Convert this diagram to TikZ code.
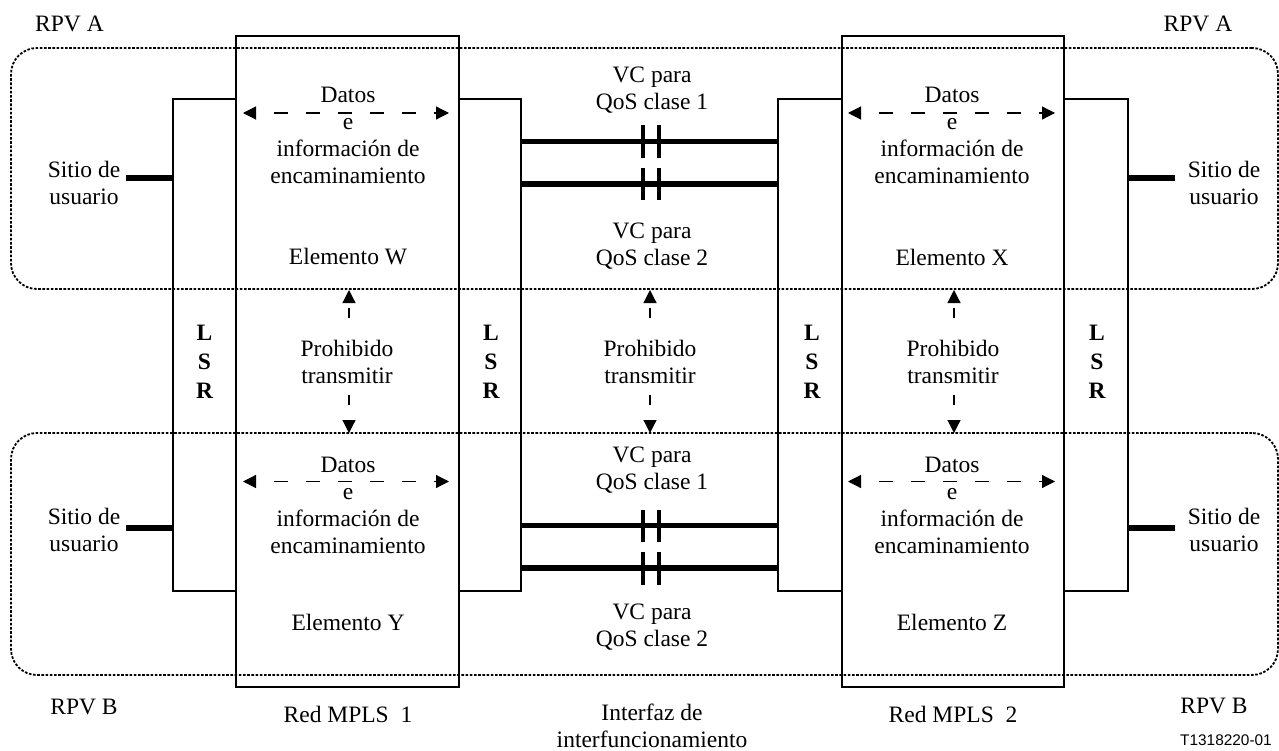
\documentclass[tikz,border=0pt]{standalone}
\usepackage{fontspec}
\setmainfont{Liberation Serif}
\newfontfamily\codefont{Liberation Sans}
\usetikzlibrary{arrows.meta}
\tikzset{
  txt/.style={inner sep=0pt, outer sep=0pt, align=center, font=\fontsize{23.5}{27}\selectfont},
  lsrtxt/.style={inner sep=0pt, outer sep=0pt, align=center, font=\fontsize{23.5}{29}\selectfont\bfseries},
  blk/.style={draw, line width=1.2pt, inner sep=0pt, outer sep=0pt},
  vpn/.style={draw, line width=1.8pt, dash pattern=on 2.6pt off 1.6pt, rounded corners=26pt, inner sep=0pt, outer sep=0pt},
  heavy/.style={line width=5.5pt},
  brk/.style={line width=4pt},
  tip/.tip={Triangle[length=13pt,width=13pt]},
  dataarrow/.style={line width=1.2pt, dash pattern=on 14pt off 18pt, dash phase=14pt, tip-tip},
  forbarrow/.style={line width=1.2pt, dash pattern=on 10pt off 40pt, -tip},
}
\begin{document}
\begin{tikzpicture}[x=1pt,y=-1pt]
\useasboundingbox (0,0) rectangle (1279,751);
% VPN groupings
\node[vpn, minimum width=1267pt, minimum height=241pt] (rpvA) at (644.5,168.5) {};
\node[vpn, minimum width=1267pt, minimum height=242pt] (rpvB) at (644.5,554) {};
% MPLS networks
\node[blk, minimum width=223pt, minimum height=651pt] (mpls1) at (347.5,361.5) {};
\node[blk, minimum width=222pt, minimum height=651pt] (mpls2) at (953,361.5) {};
% LSRs
\node[blk, minimum width=63pt, minimum height=492pt] (lsr1) at (204.5,345) {};
\node[blk, minimum width=62pt, minimum height=492pt] (lsr2) at (490,345) {};
\node[blk, minimum width=64pt, minimum height=492pt] (lsr3) at (810,345) {};
\node[blk, minimum width=64pt, minimum height=492pt] (lsr4) at (1096,345) {};
\node[lsrtxt] (l1) at (204.5,362) {L\\S\\R};
\node[lsrtxt] (l2) at (491,362) {L\\S\\R};
\node[lsrtxt] (l3) at (812,362) {L\\S\\R};
\node[lsrtxt] (l4) at (1097,362) {L\\S\\R};
% user sites
\node[txt] (s1) at (84,183) {Sitio de\\usuario};
\node[txt] (s2) at (1224,183) {Sitio de\\usuario};
\node[txt] (s3) at (84,530) {Sitio de\\usuario};
\node[txt] (s4) at (1224,530) {Sitio de\\usuario};
\coordinate (s1e) at (126,178);
\coordinate (s2e) at (1175,178);
\coordinate (s3e) at (126,528);
\coordinate (s4e) at (1175,528);
\draw[heavy] (s1e) -- (s1e -| lsr1.west);
\draw[heavy] (s2e -| lsr4.east) -- (s2e);
\draw[heavy] (s3e) -- (s3e -| lsr1.west);
\draw[heavy] (s4e -| lsr4.east) -- (s4e);
% interworking interface
\coordinate (i1) at (0,141.5);
\coordinate (i2) at (0,184);
\coordinate (i3) at (0,525.5);
\coordinate (i4) at (0,568);
\foreach \c in {i1,i2,i3,i4}{
  \draw[heavy] (\c -| lsr2.east) -- (\c -| lsr3.west);
  \draw[brk] ([yshift=16pt]\c -| 643,0) -- ([yshift=-16.5pt]\c -| 643,0);
  \draw[brk] ([yshift=16pt]\c -| 659,0) -- ([yshift=-16.5pt]\c -| 659,0);
}
\node[txt] (vc1) at (652,90) {VC para\\QoS clase 1};
\node[txt] (vc2) at (652,246) {VC para\\QoS clase 2};
\node[txt] (vc3) at (652,470) {VC para\\QoS clase 1};
\node[txt] (vc4) at (652,627) {VC para\\QoS clase 2};
% data and routing information
\node[txt] (d1) at (348,135) {Datos\\e\\información de\\encaminamiento};
\node[txt] (d2) at (952,135) {Datos\\e\\información de\\encaminamiento};
\node[txt] (d3) at (348,505) {Datos\\e\\información de\\encaminamiento};
\node[txt] (d4) at (952,505) {Datos\\e\\información de\\encaminamiento};
\coordinate (ya) at (0,113);
\coordinate (yb) at (0,481.5);
\draw[dataarrow] ([xshift=7pt]ya -| mpls1.west) -- ([xshift=-10pt]ya -| mpls1.east);
\draw[dataarrow] ([xshift=6pt]ya -| mpls2.west) -- ([xshift=-9pt]ya -| mpls2.east);
\draw[dataarrow] ([xshift=7pt]yb -| mpls1.west) -- ([xshift=-10pt]yb -| mpls1.east);
\draw[dataarrow] ([xshift=6pt]yb -| mpls2.west) -- ([xshift=-9pt]yb -| mpls2.east);
% elements
\node[txt] (ew) at (348,257) {Elemento W};
\node[txt] (ex) at (952,257) {Elemento X};
\node[txt] (ey) at (348,622) {Elemento Y};
\node[txt] (ez) at (952,622) {Elemento Z};
% forbidden transmission
\node[txt] (p1) at (347,361.5) {Prohibido\\transmitir};
\node[txt] (p2) at (650,361.5) {Prohibido\\transmitir};
\node[txt] (p3) at (953,361.5) {Prohibido\\transmitir};
\coordinate (p1t) at (349,290); \coordinate (p1b) at (349,433);
\coordinate (p2t) at (650,290); \coordinate (p2b) at (650,433);
\coordinate (p3t) at (954,290); \coordinate (p3b) at (954,433);
\draw[forbarrow] ([yshift=22pt]p1.north -| p1t) -- (p1t);
\draw[forbarrow] ([yshift=-12pt]p1.south -| p1b) -- (p1b);
\draw[forbarrow] ([yshift=22pt]p2.north -| p2t) -- (p2t);
\draw[forbarrow] ([yshift=-12pt]p2.south -| p2b) -- (p2b);
\draw[forbarrow] ([yshift=22pt]p3.north -| p3t) -- (p3t);
\draw[forbarrow] ([yshift=-12pt]p3.south -| p3b) -- (p3b);
% labels
\node[txt, anchor=base] (la1) at (69.5,31.5) {RPV A};
\node[txt, anchor=base] (la2) at (1198,31.5) {RPV A};
\node[txt, anchor=base] (lb1) at (84,714) {RPV B};
\node[txt, anchor=base] (lb2) at (1214,713) {RPV B};
\node[txt, anchor=base] (m1) at (348,722) {Red MPLS\enspace 1};
\node[txt, anchor=base] (m2) at (953,722) {Red MPLS\enspace 2};
\node[txt] (itf) at (652,726) {Interfaz de\\interfuncionamiento};
\node[inner sep=0pt, anchor=base, font=\codefont\fontsize{15.4}{18}\selectfont] (code) at (1226,745) {T1318220-01};
\end{tikzpicture}
\end{document}
